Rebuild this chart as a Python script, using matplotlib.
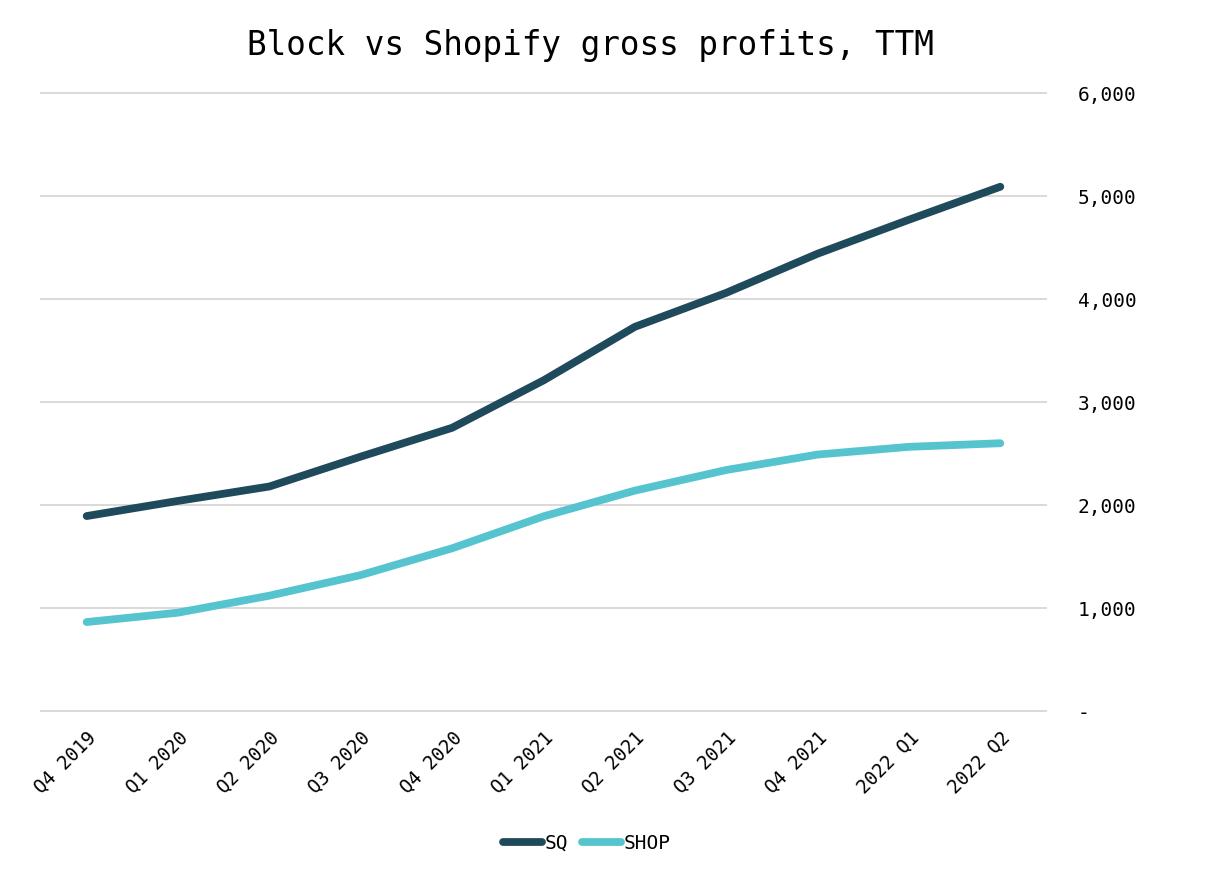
import numpy as np
import matplotlib.pyplot as plt

trimestres = ['Q4 2019', 'Q1 2020', 'Q2 2020', 'Q3 2020', 'Q4 2020', 'Q1 2021',
              'Q2 2021', 'Q3 2021', 'Q4 2021', '2022 Q1', '2022 Q2']
sq = [1893, 2040, 2180, 2470, 2750, 3210, 3730, 4060, 4440, 4770, 5090]
shop = [864, 955, 1120, 1320, 1580, 1890, 2140, 2340, 2490, 2565, 2600]
yticks = [0, 1000, 2000, 3000, 4000, 5000, 6000]
ytick_labels = ['-', '1,000', '2,000', '3,000', '4,000', '5,000', '6,000']

plt.rcParams['font.family'] = ['DejaVu Sans Mono']

fig = plt.figure(figsize=(12.06, 8.8), dpi=100)
ax = fig.add_axes([41 / 1206, 0.192, 1005 / 1206, 0.7023])

x = np.arange(len(trimestres))
ax.plot(x, sq, color='#1F4A5C', lw=5.6, solid_capstyle='round', solid_joinstyle='round', label='SQ')
ax.plot(x, shop, color='#56C4CF', lw=5.6, solid_capstyle='round', solid_joinstyle='round', label='SHOP')

ax.set_xlim(-0.5, len(trimestres) - 0.5)
ax.set_ylim(0, 6000)
ax.set_yticks(yticks)
ax.set_yticklabels(ytick_labels, fontsize=14)
ax.yaxis.tick_right()
for lab in ax.get_yticklabels():
    lab.set_horizontalalignment('left')
ax.tick_params(axis='y', length=0, pad=23)
ax.set_xticks(x)
ax.set_xticklabels(trimestres, fontsize=13.5, rotation=45, ha='right', rotation_mode='anchor')
ax.tick_params(axis='x', length=0, pad=12)

ax.grid(axis='y', color='#D9D9D9', lw=1.4)
for gl in ax.get_ygridlines():
    gl.set_clip_on(False)
ax.set_axisbelow(True)
for s in ax.spines.values():
    s.set_visible(False)

fig.text(590 / 1206, 1 - 46 / 880, 'Block vs Shopify gross profits, TTM', fontsize=23.5,
         ha='center', va='center')

fig.legend(loc='center', bbox_to_anchor=(587 / 1206, 1 - 843 / 880), ncol=2, frameon=False,
           fontsize=14, handlelength=2.0, handletextpad=0.15, columnspacing=0.7)

fig.savefig('out.png', dpi=100)
